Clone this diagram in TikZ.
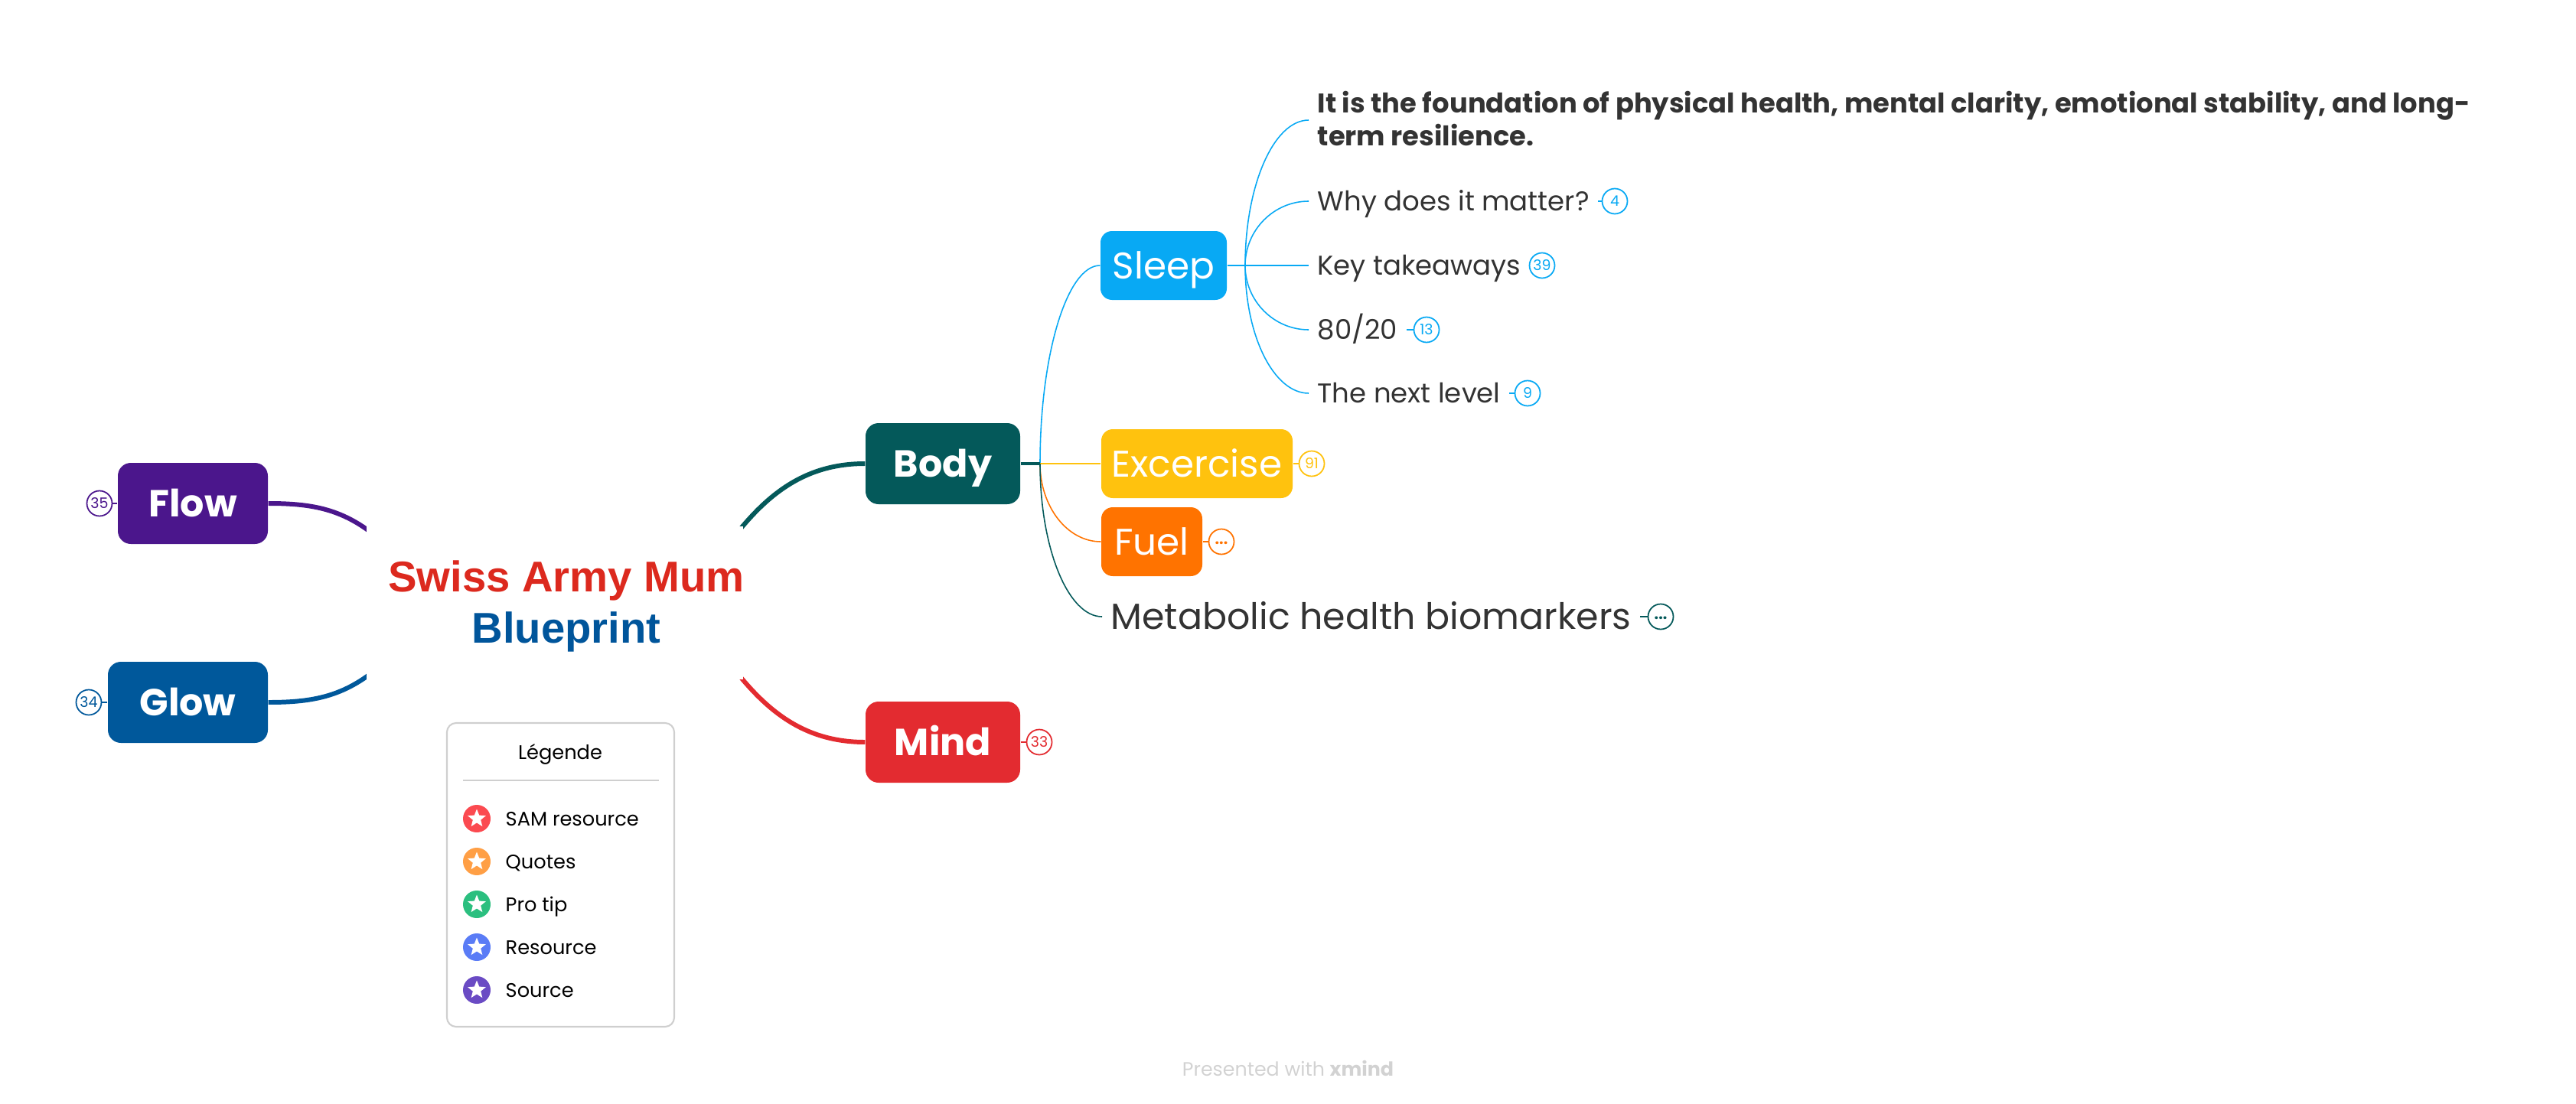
\documentclass[tikz,border=0pt]{standalone}
\usepackage{fontspec}
\usepackage{tikz}
\usetikzlibrary{shapes.geometric,calc}
\setmainfont{Poppins}
\newfontfamily\titlefont{Liberation Sans}
\definecolor{bodygreen}{HTML}{04595A}
\definecolor{mindred}{HTML}{E32B30}
\definecolor{flowpurple}{HTML}{4B168C}
\definecolor{glowblue}{HTML}{00589B}
\definecolor{sleepblue}{HTML}{08A9F4}
\definecolor{excyellow}{HTML}{FFC20E}
\definecolor{fuelorange}{HTML}{FF7300}
\definecolor{inkgrey}{HTML}{333333}
\definecolor{framegrey}{HTML}{CFCFCF}
\definecolor{footgrey}{HTML}{D2D2D2}
\definecolor{samred}{HTML}{FB4A50}
\definecolor{quoteorange}{HTML}{FF9F45}
\definecolor{tipgreen}{HTML}{2BBF7F}
\definecolor{resblue}{HTML}{5A7CF6}
\definecolor{sourcepurple}{HTML}{6A4BC4}
\tikzset{
  mainbox/.style={fill=#1,rounded corners=0.17cm,text=white,font=\fontsize{14}{16}\selectfont\bfseries,minimum height=1.06cm,inner sep=0pt,text height=0.44cm,text depth=0.10cm},
  subbox/.style={fill=#1,rounded corners=0.15cm,text=white,font=\fontsize{13.8}{16}\selectfont,minimum height=0.90cm,inner sep=0pt,text height=0.44cm,text depth=0.10cm},
  leaftext/.style={anchor=west,inner xsep=0.11cm,inner ysep=0pt,text=inkgrey,font=\fontsize{10.1}{12.5}\selectfont,text height=0.35cm,text depth=0.10cm},
  boldtext/.style={anchor=west,inner xsep=0.11cm,inner ysep=0pt,text=inkgrey,align=left,font=\fontsize{10.05}{12.5}\selectfont\bfseries},
  badge/.style={circle,draw=#1,fill=white,text=#1,line width=0.5pt,minimum size=0.33cm,inner sep=0pt,font=\fontsize{5.4}{6}\selectfont},
  dotbadge/.style={badge=#1,font=\fontsize{5.6}{6}\selectfont\bfseries,text height=0.07cm,text depth=0cm},
  mainline/.style={draw=#1,line width=1.7pt},
  subline/.style={draw=#1,line width=0.45pt},
  hubcurve/.style={to path={.. controls ($(\tikztostart)!0.55!(\tikztostart |- \tikztotarget)$) and ($(\tikztotarget)!0.55!(\tikztostart |- \tikztotarget)$) .. (\tikztotarget)}},
  legendicon/.style={circle,fill=#1,minimum size=0.36cm,inner sep=0pt},
  legendstar/.style={star,star points=5,star point ratio=2.3,fill=white,minimum size=0.25cm,inner sep=0pt},
  legendtext/.style={anchor=west,inner sep=0pt,font=\fontsize{7.3}{9}\selectfont,text height=0.25cm,text depth=0.06cm}
}
\begin{document}
\begin{tikzpicture}[scale=1.0]
\useasboundingbox (0,0) rectangle (33.66,14.42);
% main branches
\node[mainbox=bodygreen,minimum width=2.02cm] (body) at (12.32,8.36) {Body};
\node[mainbox=mindred,minimum width=2.02cm] (mind) at (12.32,4.72) {Mind};
\node[mainbox=flowpurple,minimum width=1.96cm] (flow) at (2.52,7.84) {Flow};
\node[mainbox=glowblue,minimum width=2.09cm] (glow) at (2.455,5.24) {Glow};
\coordinate (bodyend) at (9.36,7.09);
\coordinate (mindend) at (9.36,5.99);
\coordinate (flowend) at (4.95,7.38);
\coordinate (glowend) at (4.95,5.70);
\draw[mainline=bodygreen] (body.west) to[out=180,in=55] (bodyend);
\draw[mainline=mindred] (mind.west) to[out=180,in=-55] (mindend);
\draw[mainline=flowpurple] (flow.east) to[out=0,in=140] (flowend);
\draw[mainline=glowblue] (glow.east) to[out=0,in=220] (glowend);
\fill[white] (4.79,5.54) rectangle (9.71,7.54);
\node[align=center,font=\titlefont\bfseries\fontsize{16}{19}\selectfont] (title) at (7.40,6.495) {\textcolor[HTML]{DC291E}{Swiss Army Mum}\\\textcolor[HTML]{00559B}{Blueprint}};
% body children
\coordinate (bodyhub) at (13.59,8.36);
\node[subbox=sleepblue,minimum width=1.65cm] (sleep) at (15.205,10.95) {Sleep};
\node[subbox=excyellow,minimum width=2.50cm] (excercise) at (15.64,8.36) {Excercise};
\node[subbox=fuelorange,minimum width=1.32cm] (fuel) at (15.05,7.34) {Fuel};
\node[leaftext,font=\fontsize{13.5}{16}\selectfont,text height=0.43cm] (metabolic) at (14.40,6.36) {Metabolic health biomarkers};
\draw[subline=sleepblue] (bodyhub) to[hubcurve] (sleep.west);
\draw[subline=excyellow,line width=0.8pt] (bodyhub) -- (excercise.west);
\draw[subline=fuelorange] (bodyhub) to[hubcurve] (fuel.west);
\draw[subline=bodygreen] (bodyhub) to[hubcurve] (metabolic.west);
\draw[subline=bodygreen,line width=0.9pt] (body.east) -- (bodyhub);
% sleep children
\coordinate (sleephub) at (16.27,10.95);
\node[boldtext] (foundation) at (17.10,12.87) {It is the foundation of physical health, mental clarity, emotional stability, and long-\\term resilience.};
\node[leaftext] (why) at (17.10,11.79) {Why does it matter?};
\node[leaftext] (takeaways) at (17.10,10.95) {Key takeaways};
\node[leaftext] (eighty) at (17.10,10.11) {80/20};
\node[leaftext] (nextlevel) at (17.10,9.28) {The next level};
\draw[subline=sleepblue,line width=0.7pt] (sleep.east) -- (sleephub) -- (takeaways.west);
\draw[subline=sleepblue] (sleephub) to[hubcurve] ([yshift=-0.02cm]foundation.west);
\draw[subline=sleepblue] (sleephub) to[hubcurve] (why.west);
\draw[subline=sleepblue] (sleephub) to[hubcurve] (eighty.west);
\draw[subline=sleepblue] (sleephub) to[hubcurve] (nextlevel.west);
% collapsed counts
\node[badge=sleepblue] (whycount) at (21.10,11.79) {4};
\node[badge=sleepblue] (takeawayscount) at (20.15,10.95) {39};
\node[badge=sleepblue] (eightycount) at (18.64,10.11) {13};
\node[badge=sleepblue] (nextcount) at (19.96,9.28) {9};
\node[badge=excyellow] (exccount) at (17.14,8.36) {91};
\node[dotbadge=fuelorange] (fuelcount) at (15.96,7.34) {...};
\node[dotbadge=bodygreen] (metaboliccount) at (21.70,6.36) {...};
\node[badge=mindred] (mindcount) at (13.58,4.72) {33};
\node[badge=flowpurple] (flowcount) at (1.30,7.84) {35};
\node[badge=glowblue] (glowcount) at (1.16,5.24) {34};
\draw[subline=sleepblue] (why.east) -- (whycount.west);
\draw[subline=sleepblue] (takeaways.east) -- (takeawayscount.west);
\draw[subline=sleepblue] (eighty.east) -- (eightycount.west);
\draw[subline=sleepblue] (nextlevel.east) -- (nextcount.west);
\draw[subline=excyellow] (excercise.east) -- (exccount.west);
\draw[subline=fuelorange] (fuel.east) -- (fuelcount.west);
\draw[subline=bodygreen] (metabolic.east) -- (metaboliccount.west);
\draw[subline=mindred] (mind.east) -- (mindcount.west);
\draw[subline=flowpurple] (flow.west) -- (flowcount.east);
\draw[subline=glowblue] (glow.west) -- (glowcount.east);
% legend
\node[draw=framegrey,line width=0.6pt,rounded corners=0.12cm,minimum width=2.97cm,minimum height=3.97cm,inner sep=0pt] (legend) at (7.325,2.985) {};
\node[inner sep=0pt,font=\fontsize{7.3}{10}\selectfont] (legendhead) at (7.32,4.56) {Légende};
\draw[framegrey,line width=0.5pt] (6.05,4.22) -- (8.61,4.22);
\node[legendicon=samred] (samicon) at (6.23,3.72) {};
\node[legendstar] (samstar) at (samicon) {};
\node[legendtext] (samtext) at (6.60,3.72) {SAM resource};
\node[legendicon=quoteorange] (quoteicon) at (6.23,3.16) {};
\node[legendstar] (quotestar) at (quoteicon) {};
\node[legendtext] (quotetext) at (6.60,3.16) {Quotes};
\node[legendicon=tipgreen] (tipicon) at (6.23,2.60) {};
\node[legendstar] (tipstar) at (tipicon) {};
\node[legendtext] (tiptext) at (6.60,2.60) {Pro tip};
\node[legendicon=resblue] (resicon) at (6.23,2.04) {};
\node[legendstar] (resstar) at (resicon) {};
\node[legendtext] (restext) at (6.60,2.04) {Resource};
\node[legendicon=sourcepurple] (sourceicon) at (6.23,1.48) {};
\node[legendstar] (sourcestar) at (sourceicon) {};
\node[legendtext] (sourcetext) at (6.60,1.48) {Source};
\node[inner sep=0pt,text=footgrey,font=\fontsize{7.2}{9}\selectfont] (footer) at (16.83,0.46) {Presented with \textbf{xmind}};
\end{tikzpicture}
\end{document}
